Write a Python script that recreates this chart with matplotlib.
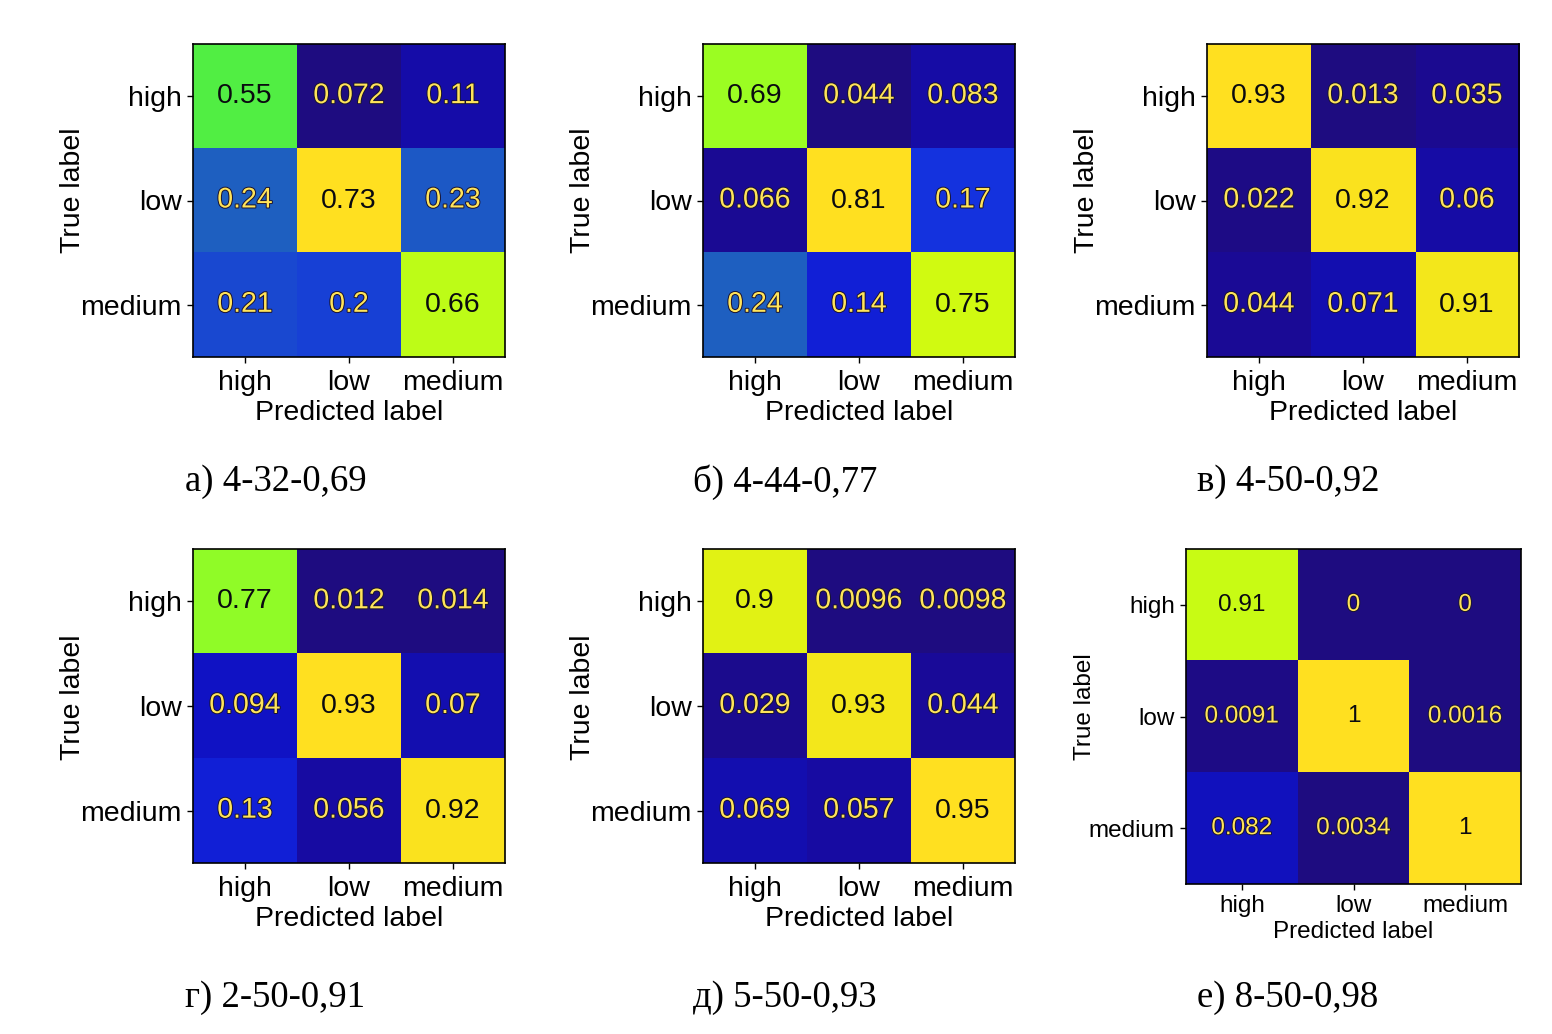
import matplotlib
matplotlib.use('Agg')
import matplotlib.pyplot as plt
import matplotlib.patheffects as pe
from matplotlib.colors import LinearSegmentedColormap
import numpy as np

plt.rcParams['font.family'] = ['Liberation Sans', 'DejaVu Sans']

# Data: normalized confusion matrices (rows = true, cols = predicted)
labels = ['high', 'low', 'medium']
captions = ['а) 4-32-0,69', 'б) 4-44-0,77', 'в) 4-50-0,92',
            'г) 2-50-0,91', 'д) 5-50-0,93', 'е) 8-50-0,98']
cm_a = [[0.55, 0.072, 0.11], [0.24, 0.73, 0.23], [0.21, 0.2, 0.66]]
cm_b = [[0.69, 0.044, 0.083], [0.066, 0.81, 0.17], [0.24, 0.14, 0.75]]
cm_c = [[0.93, 0.013, 0.035], [0.022, 0.92, 0.06], [0.044, 0.071, 0.91]]
cm_d = [[0.77, 0.012, 0.014], [0.094, 0.93, 0.07], [0.13, 0.056, 0.92]]
cm_e = [[0.9, 0.0096, 0.0098], [0.029, 0.93, 0.044], [0.069, 0.057, 0.95]]
cm_f = [[0.91, 0, 0], [0.0091, 1, 0.0016], [0.082, 0.0034, 1]]
matrices = [cm_a, cm_b, cm_c, cm_d, cm_e, cm_f]

# colormap as it appears in the scanned figure
cmap = LinearSegmentedColormap.from_list('scan', [
    (0.00, '#1e0c80'),
    (0.04, '#190a9c'),
    (0.07, '#1210b6'),
    (0.10, '#1014d0'),
    (0.16, '#1430e0'),
    (0.25, '#1e5ec2'),
    (0.50, '#2aae86'),
    (0.73, '#52f042'),
    (0.86, '#a6ff1e'),
    (0.93, '#d6fa10'),
    (1.00, '#ffe020'),
])

W, H = 1552, 1034
fig = plt.figure(figsize=(W / 100, H / 100), dpi=100)
fig.patch.set_facecolor('white')

# axes boxes in pixels: left, top, width, height
boxes = [(193, 44, 312, 313), (703, 44, 312, 313), (1207, 44, 312, 313),
         (193, 549, 312, 314), (703, 549, 312, 314), (1186, 549, 335, 335)]
ylab_pos = [(73, 190), (583, 190), (1087, 190),
            (73, 697), (583, 697), (1085, 707)]
cap_pos = [(276, 482), (785, 482), (1288, 482),
           (275, 998), (785, 998), (1288, 998)]

for i, cm in enumerate(matrices):
    cm = np.array(cm, dtype=float)
    l, t, w, h = boxes[i]
    ax = fig.add_axes([l / W, 1 - (t + h) / H, w / W, h / H])
    fs = 17.5 if i == 5 else 20.5
    vmin, vmax = cm.min(), cm.max()
    ax.imshow(cm, cmap=cmap, vmin=vmin, vmax=vmax, aspect='auto',
              interpolation='nearest')
    thresh = (vmin + vmax) / 2
    for r in range(3):
        for c in range(3):
            v = cm[r, c]
            if v < thresh:
                txt = ax.text(c, r, format(v, '.2g'), ha='center', va='center',
                              fontsize=fs, color='#ffe45a')
                txt.set_path_effects([pe.withStroke(linewidth=1.4, foreground='#1a1430')])
            else:
                ax.text(c, r, format(v, '.2g'), ha='center', va='center',
                        fontsize=fs, color='#0a0a10')
    ax.set_xticks(range(3))
    ax.set_yticks(range(3))
    ax.set_xticklabels(labels, fontsize=fs)
    ax.set_yticklabels(labels, fontsize=fs)
    ax.tick_params(axis='y', length=4, pad=4, width=1)
    ax.tick_params(axis='x', length=4, pad=5 if i < 5 else 4, width=1)
    ax.set_xlabel('Predicted label', fontsize=fs, labelpad=3)
    for s in ax.spines.values():
        s.set_linewidth(1.2)
    fig.text(ylab_pos[i][0] / W, 1 - ylab_pos[i][1] / H, 'True label',
             rotation=90, ha='center', va='center', fontsize=fs)
    fig.text(cap_pos[i][0] / W, 1 - cap_pos[i][1] / H, captions[i],
             ha='center', va='center', fontsize=26.5,
             family=['Liberation Serif', 'DejaVu Serif'])

fig.savefig('out.png', dpi=100, facecolor='white')
